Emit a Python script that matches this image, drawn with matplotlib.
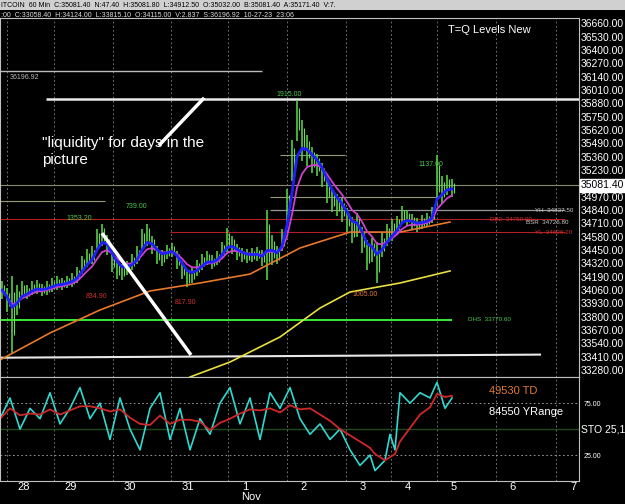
import numpy as np
import pandas as pd
import matplotlib
matplotlib.use('Agg')
import matplotlib.pyplot as plt

plt.rcParams['font.family'] = ['Liberation Sans', 'DejaVu Sans']

# hourly bars (sampled), chart position in bar units
close = [34059, 33962, 33816, 33962, 34059, 34040, 34079, 34089, 34059, 34079,
         34108, 34128, 34118, 34137, 34157, 34206, 34303, 34371, 34400, 34546,
         34595, 34498, 34332, 34254, 34235, 34274, 34332, 34400, 34546, 34595,
         34498, 34400, 34371, 34430, 34449, 34352, 34254, 34176, 34206, 34274,
         34332, 34371, 34332, 34371, 34449, 34546, 34498, 34430, 34400, 34391,
         34400, 34410, 34371, 34498, 34449, 34400, 34546, 34887, 35326, 35715,
         35521, 35423, 35326, 35277, 35180, 35033, 34936, 34887, 34839, 34741,
         34644, 34693, 34546, 34400, 34449, 34332, 34498, 34595, 34644, 34693,
         34790, 34761, 34722, 34693, 34722, 34741, 34790, 35131, 35033, 35082, 35053]
spread = [90, 120, 380, 150, 90, 70, 70, 70, 60, 70,
          70, 70, 60, 60, 70, 80, 90, 90, 90, 110,
          110, 100, 100, 90, 80, 70, 80, 90, 110, 110,
          90, 90, 80, 70, 70, 90, 90, 90, 80, 80,
          80, 70, 70, 70, 80, 120, 90, 80, 70, 70,
          70, 70, 80, 340, 150, 90, 110, 160, 200, 200,
          200, 150, 130, 110, 120, 130, 120, 110, 120, 120,
          130, 120, 130, 150, 120, 200, 120, 110, 110, 90,
          90, 80, 80, 70, 70, 70, 80, 240, 140, 100, 90]

orange_pos = [0, 50, 100, 150, 200, 250, 300, 350, 400, 450]
orange_ma = [33378, 33641, 33865, 34050, 34128, 34215, 34469, 34624, 34624, 34722]
yellow_pos = [190, 230, 280, 320, 350, 400, 450]
yellow_ma = [33212, 33358, 33602, 33884, 34040, 34128, 34245]

sto_k = [60, 80, 50, 70, 60, 85, 55, 70, 90, 60, 75, 40, 80, 50, 30, 70, 85, 40,
         70, 30, 60, 45, 75, 90, 55, 80, 40, 85, 70, 90, 60, 45, 55, 40, 50, 30,
         15, 25, 10, 20, 45, 30, 85, 75, 85, 80, 95, 70, 80]
sto_pos = [0, 10, 20, 30, 40, 50, 60, 70, 80, 90, 100, 110, 120, 130, 140, 150, 160, 170,
           180, 190, 200, 210, 220, 230, 240, 250, 260, 270, 280, 290, 300, 310, 320, 330, 340, 350,
           360, 370, 375, 385, 390, 395, 400, 410, 420, 430, 437, 445, 452]

day_labels = ['28', '29', '30', '31', '1', '2', '3', '4', '5', '6', '7']
day_pos = [24, 71, 130, 188, 245, 304, 363, 408, 454, 513, 573]

price_ticks = np.arange(33280, 36661, 130)

bar_x = 2 + 5 * np.arange(len(close))
c = pd.Series(close, dtype=float)
blue_ma = c.ewm(span=3).mean()
mag_ma = c.ewm(span=6).mean()
k = pd.Series(sto_k, dtype=float)
sto_d = k.rolling(5, min_periods=1).mean()

fig = plt.figure(figsize=(6.25, 5.04), dpi=100, facecolor='black')
ax = fig.add_axes([0, 0.252, 0.9264, 0.712], facecolor='black')
ax2 = fig.add_axes([0, 0.0456, 0.9264, 0.206], facecolor='black')

for a in (ax, ax2):
    a.set_xlim(0, 579)
    for s in a.spines.values():
        s.set_color('#c0c0c0')
    for g in day_pos:
        a.axvline(g - 17, color='#888888', lw=0.6, ls=(0, (2, 3)))

ax.set_ylim(33212, 36709)
ax.yaxis.tick_right()
ax.set_yticks(price_ticks)
ax.set_yticklabels([f'{v:.2f}' for v in price_ticks], color='white', fontsize=7.5)
ax.tick_params(axis='y', length=0, pad=1)
ax.set_xticks([])

# levels
ax.hlines(36196.92, 0, 262, color='#bbbbbb', lw=1)
ax.text(10, 36120, '36196.92', color='#bbbbbb', fontsize=5)
ax.hlines(35920, 46, 579, color='#e8e8e8', lw=1.8)
ax.text(276, 35955, '1915.00', color='#4ec94e', fontsize=5)
ax.axhline(35081.4, color='#8a8a6a', lw=0.8)
ax.hlines(34837.5, 270, 565, color='#999999', lw=0.9)
ax.text(535, 34820, 'YH  34837.50', color='#cccccc', fontsize=4.5)
ax.hlines(34750, 0, 565, color='#b02020', lw=0.8)
ax.text(490, 34735, 'DB2  34750.00', color='#d03030', fontsize=4.5)
ax.text(526, 34700, 'BSR  34726.80', color='#cccccc', fontsize=4.5)
ax.hlines(34626.2, 170, 565, color='#b02020', lw=0.8)
ax.text(535, 34610, 'YL  34626.20', color='#d03030', fontsize=4.5)
ax.hlines(33770.6, 0, 452, color='#33ee33', lw=1.4)
ax.text(468, 33755, 'DHS  33770.60', color='#4ec94e', fontsize=4.5)
ax.plot([0, 540], [33400, 33430], color='#e8e8e8', lw=1.5)
ax.hlines(35380, 280, 345, color='#999977', lw=0.8)
ax.hlines(34930, 0, 105, color='#999977', lw=0.8)
ax.hlines(34970, 270, 437, color='#999977', lw=0.8)

ax.text(418, 35270, '1137.00', color='#4ec94e', fontsize=5)
ax.text(126, 34860, '739.00', color='#4ec94e', fontsize=5)
ax.text(66, 34740, '1353.20', color='#4ec94e', fontsize=5)
ax.text(86, 33980, '834.90', color='#d03030', fontsize=5)
ax.text(175, 33920, '817.90', color='#d03030', fontsize=5)
ax.text(352, 34000, '1005.00', color='#e07a30', fontsize=5)

# price bars
lows = c - np.array(spread)
highs = c + np.array(spread)
ax.vlines(bar_x, lows, highs, color='#55cc44', lw=1.2)
ax.vlines(bar_x + 2, c - np.array(spread) * 0.5, c + np.array(spread) * 0.6, color='#66dd55', lw=0.8)

ax.plot(orange_pos, orange_ma, color='#e8782a', lw=1.2)
ax.plot(yellow_pos, yellow_ma, color='#e8e040', lw=1.2)
ax.plot(bar_x, mag_ma, color='#d040d0', lw=1.3)
ax.plot(bar_x, blue_ma, color='#2020ff', lw=2)

# drawn lines and note
ax.plot([160, 203], [35480, 35920], color='white', lw=2.5)
ax.plot([103, 190], [34600, 33440], color='white', lw=2.5)
ax.text(42, 35560, '"liquidity" for days in the\npicture', color='white', fontsize=11,
        va='top', linespacing=1.3)
ax.text(448, 36560, 'T=Q Levels New', color='white', fontsize=8)

# current price box
ax.text(581, 35081.4, '35081.40', color='black', fontsize=7.5, va='center',
        bbox=dict(facecolor='white', edgecolor='white', pad=1), clip_on=False)

# stochastic panel
ax2.set_ylim(0, 100)
ax2.set_xticks(day_pos)
ax2.set_xticklabels(day_labels, color='white', fontsize=8)
ax2.tick_params(axis='x', length=0, pad=1)
ax2.text(251, -11, 'Nov', color='white', fontsize=8, ha='center', va='top')
ax2.yaxis.tick_right()
ax2.set_yticks([25, 75])
ax2.set_yticklabels(['25.00', '75.00'], color='white', fontsize=5)
ax2.tick_params(axis='y', length=0, pad=3)
ax2.axhline(75, color='#aaaaaa', lw=0.6, ls=(0, (2, 3)))
ax2.axhline(25, color='#aaaaaa', lw=0.6, ls=(0, (2, 3)))
ax2.axhline(50, color='#1f4a1f', lw=1)
ax2.plot(sto_pos, sto_k, color='#30d8d0', lw=1.2)
ax2.plot(sto_pos, sto_d, color='#d02828', lw=1.3)
ax2.text(489, 84, '49530 TD', color='#e07a30', fontsize=8)
ax2.text(489, 64, '84550 YRange', color='white', fontsize=8)
ax2.text(581, 47, 'STO 25,1', color='white', fontsize=7.5, clip_on=False)

# header
fig.patches.append(plt.Rectangle((0, 0.98), 1, 0.02, transform=fig.transFigure,
                                 facecolor='#d0d0d0', edgecolor='none'))
fig.text(0.002, 0.99, 'ITCOIN  60 Min  C:35081.40  N:47.40  H:35081.80  L:34912.50  O:35032.00  B:35081.40  A:35171.40  V:7.',
         color='black', fontsize=5, va='center')
fig.text(0.002, 0.97, ':00  C:33058.40  H:34124.00  L:33815.10  O:34115.00  V:2.837  S:36196.92  10-27-23  23:06',
         color='#dddddd', fontsize=5, va='center')

fig.savefig('out.png', dpi=100, facecolor='black')
